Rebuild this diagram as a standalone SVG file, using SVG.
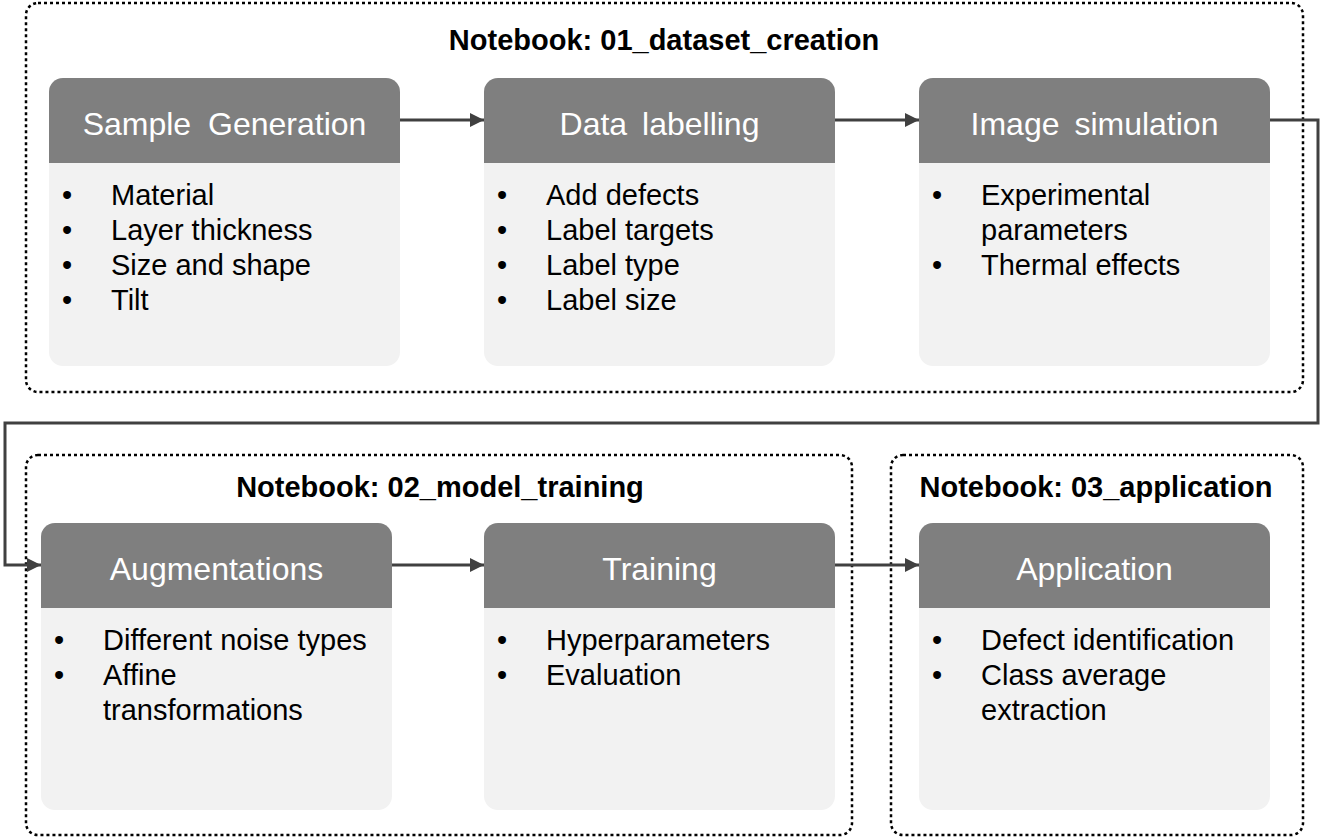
<svg xmlns="http://www.w3.org/2000/svg" width="1323" height="839" viewBox="0 0 1323 839">
<defs>
<style>
.cont{fill:none;stroke:#000;stroke-width:2.5;stroke-dasharray:3 3}
.hdr{fill:#7f7f7f}
.body{fill:#f2f2f2}
.ht{font-family:"Liberation Sans",Arial,sans-serif;font-size:32px;fill:#fff;text-anchor:middle;word-spacing:6px}
.bt{font-family:"Liberation Sans",Arial,sans-serif;font-size:29px;fill:#000}
.tt{font-family:"Liberation Sans",Arial,sans-serif;font-size:29px;font-weight:bold;fill:#000;text-anchor:middle}
.conn{fill:none;stroke:#404040;stroke-width:3}
</style>
<marker id="arr" markerUnits="userSpaceOnUse" markerWidth="14" markerHeight="14" viewBox="0 0 12 12" refX="12" refY="6" orient="auto">
<path d="M0,0 L12,6 L0,12 Z" fill="#404040"/>
</marker>
</defs>
<rect width="1323" height="839" fill="#fff"/>

<g id="nb01">
<rect class="cont" x="26" y="3" width="1277" height="389" rx="12"/>
<text class="tt" x="664" y="50">Notebook: 01_dataset_creation</text>
</g>
<g id="nb02">
<rect class="cont" x="26" y="455" width="826" height="380" rx="12"/>
<text class="tt" x="440" y="497">Notebook: 02_model_training</text>
</g>
<g id="nb03">
<rect class="cont" x="891" y="455" width="412" height="380" rx="12"/>
<text class="tt" x="1096" y="497">Notebook: 03_application</text>
</g>

<g id="connectors">
<line class="conn" x1="400" y1="120" x2="484" y2="120" marker-end="url(#arr)"/>
<line class="conn" x1="835" y1="120" x2="919" y2="120" marker-end="url(#arr)"/>
<path class="conn" d="M1270,120 H1318 V423 H5 V565 H41" marker-end="url(#arr)"/>
<line class="conn" x1="392" y1="565" x2="484" y2="565" marker-end="url(#arr)"/>
<line class="conn" x1="835" y1="565" x2="919" y2="565" marker-end="url(#arr)"/>
</g>

<g id="sample-generation">
<rect class="body" x="49" y="78" width="351" height="288" rx="14"/>
<path class="hdr" d="M49,163 V92 A14,14 0 0 1 63,78 H386 A14,14 0 0 1 400,92 V163 Z"/>
<text class="ht" x="224.5" y="135" style="word-spacing:8px">Sample Generation</text>
<text class="bt" x="62" y="205">•</text><text class="bt" x="111" y="205">Material</text>
<text class="bt" x="62" y="240">•</text><text class="bt" x="111" y="240">Layer thickness</text>
<text class="bt" x="62" y="275">•</text><text class="bt" x="111" y="275">Size and shape</text>
<text class="bt" x="62" y="310">•</text><text class="bt" x="111" y="310">Tilt</text>
</g>

<g id="data-labelling">
<rect class="body" x="484" y="78" width="351" height="288" rx="14"/>
<path class="hdr" d="M484,163 V92 A14,14 0 0 1 498,78 H821 A14,14 0 0 1 835,92 V163 Z"/>
<text class="ht" x="659.5" y="135">Data labelling</text>
<text class="bt" x="497" y="205">•</text><text class="bt" x="546" y="205">Add defects</text>
<text class="bt" x="497" y="240">•</text><text class="bt" x="546" y="240">Label targets</text>
<text class="bt" x="497" y="275">•</text><text class="bt" x="546" y="275">Label type</text>
<text class="bt" x="497" y="310">•</text><text class="bt" x="546" y="310">Label size</text>
</g>

<g id="image-simulation">
<rect class="body" x="919" y="78" width="351" height="288" rx="14"/>
<path class="hdr" d="M919,163 V92 A14,14 0 0 1 933,78 H1256 A14,14 0 0 1 1270,92 V163 Z"/>
<text class="ht" x="1094.5" y="135">Image simulation</text>
<text class="bt" x="932" y="205">•</text><text class="bt" x="981" y="205">Experimental</text>
<text class="bt" x="981" y="240">parameters</text>
<text class="bt" x="932" y="275">•</text><text class="bt" x="981" y="275">Thermal effects</text>
</g>

<g id="augmentations">
<rect class="body" x="41" y="523" width="351" height="287" rx="14"/>
<path class="hdr" d="M41,608 V537 A14,14 0 0 1 55,523 H378 A14,14 0 0 1 392,537 V608 Z"/>
<text class="ht" x="216.5" y="580">Augmentations</text>
<text class="bt" x="54" y="650">•</text><text class="bt" x="103" y="650">Different noise types</text>
<text class="bt" x="54" y="685">•</text><text class="bt" x="103" y="685">Affine</text>
<text class="bt" x="103" y="720">transformations</text>
</g>

<g id="training">
<rect class="body" x="484" y="523" width="351" height="287" rx="14"/>
<path class="hdr" d="M484,608 V537 A14,14 0 0 1 498,523 H821 A14,14 0 0 1 835,537 V608 Z"/>
<text class="ht" x="659.5" y="580">Training</text>
<text class="bt" x="497" y="650">•</text><text class="bt" x="546" y="650">Hyperparameters</text>
<text class="bt" x="497" y="685">•</text><text class="bt" x="546" y="685">Evaluation</text>
</g>

<g id="application">
<rect class="body" x="919" y="523" width="351" height="287" rx="14"/>
<path class="hdr" d="M919,608 V537 A14,14 0 0 1 933,523 H1256 A14,14 0 0 1 1270,537 V608 Z"/>
<text class="ht" x="1094.5" y="580">Application</text>
<text class="bt" x="932" y="650">•</text><text class="bt" x="981" y="650">Defect identification</text>
<text class="bt" x="932" y="685">•</text><text class="bt" x="981" y="685">Class average</text>
<text class="bt" x="981" y="720">extraction</text>
</g>
</svg>
